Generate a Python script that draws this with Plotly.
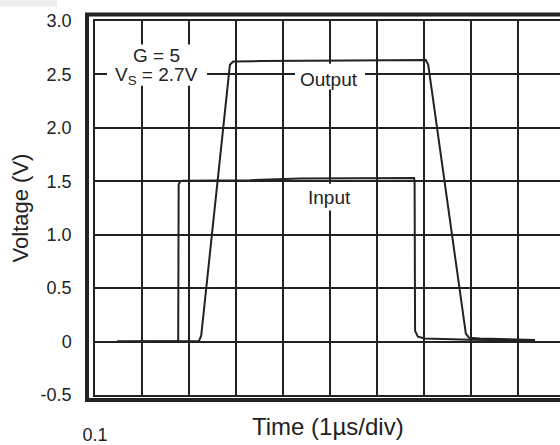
import plotly.graph_objects as go

# Time axis in divisions (1 µs/div), voltage in volts
input_t = [0.47, 1.77, 1.78, 1.81, 1.87, 3.30, 4.36, 6.79, 6.80, 6.81, 6.87, 7.02, 7.98, 9.36]
input_v = [0.00, 0.00, 1.47, 1.50, 1.505, 1.51, 1.525, 1.53, 1.49, 0.10, 0.045, 0.028, 0.018, 0.01]

output_t = [0.47, 2.21, 2.26, 2.87, 2.94, 3.51, 5.43, 6.96, 7.04, 7.09, 7.89, 7.96, 8.19, 9.36]
output_v = [0.00, 0.005, 0.055, 2.59, 2.62, 2.625, 2.63, 2.64, 2.635, 2.59, 0.075, 0.035, 0.028, 0.015]

y_ticks = [-0.5, 0, 0.5, 1.0, 1.5, 2.0, 2.5, 3.0]
y_labels = ["-0.5", "0", "0.5", "1.0", "1.5", "2.0", "2.5", "3.0"]
x_ticks = [0]
x_labels = ["0.1"]

INK = "#222222"
FONT = "Liberation Sans, Arial, sans-serif"

fig = go.Figure()
for t, v in [(input_t, input_v), (output_t, output_v)]:
    fig.add_trace(go.Scatter(x=t, y=v, mode="lines",
                             line=dict(color=INK, width=2),
                             hoverinfo="skip", showlegend=False))

fig.update_layout(
    width=560, height=445,
    margin=dict(l=95, r=0, t=21, b=47),
    paper_bgcolor="white", plot_bgcolor="white",
    font=dict(family=FONT, color=INK, size=18),
    xaxis=dict(range=[0, 465 / 47], tickvals=x_ticks, ticktext=x_labels,
               showgrid=True, gridcolor=INK, gridwidth=2.2,
               minor=dict(tickmode="linear", tick0=0, dtick=1, showgrid=True,
                          gridcolor=INK, gridwidth=2.2, ticks=""),
               showline=True, mirror=True, linecolor=INK, linewidth=1.5,
               zeroline=False, ticks="", ticklabelstandoff=23,
               tickfont=dict(size=18)),
    yaxis=dict(range=[-0.5, 3.0], tickvals=y_ticks, ticktext=y_labels,
               showgrid=True, gridcolor=INK, gridwidth=2.2,
               showline=True, mirror=False, linecolor=INK, linewidth=1.5,
               zeroline=False, ticks="", ticklabelstandoff=18,
               tickfont=dict(size=18),
               title=dict(text="Voltage (V)", font=dict(size=22), standoff=6)),
)

# Heavy outer frame (left, top, bottom)
fig.add_shape(type="path", xref="paper", yref="paper",
              path="M 1.2 1.0172 L -0.0172 1.0172 L -0.0172 -0.0133 L 1.2 -0.0133",
              line=dict(color=INK, width=4))

# Light patch in the top-left corner
fig.add_shape(type="rect", xref="paper", yref="paper",
              x0=-95 / 465, x1=(57 - 95) / 465, y0=(398 - 7) / 377, y1=398 / 377,
              line=dict(width=0), fillcolor="#eeeeee", layer="below")

# White patches that break the grid around the labels
for x0, x1, y0, y1 in [(0.255, 2.383, 2.395, 2.78),
                       (4.255, 5.745, 2.358, 2.60),
                       (4.47, 5.53, 1.226, 1.476)]:
    fig.add_shape(type="rect", xref="x", yref="y", x0=x0, x1=x1, y0=y0, y1=y1,
                  line=dict(width=0), fillcolor="white", layer="above")

label = dict(xref="x", yref="y", showarrow=False, font=dict(size=19))
fig.add_annotation(x=1.30, y=2.674, text="G = 5", **label)
fig.add_annotation(x=1.30, y=2.49, text="V<sub>S</sub> = 2.7V", **label)
fig.add_annotation(x=4.98, y=2.45, text="Output", **label)
fig.add_annotation(x=4.98, y=1.346, text="Input", **label)

# Time axis title
fig.add_annotation(x=0.5, y=(398 - 430) / 377, xref="paper", yref="paper",
                   text="Time (1\u00b5s/div)", showarrow=False,
                   font=dict(size=24), yanchor="middle")

fig.write_html("out.html")
